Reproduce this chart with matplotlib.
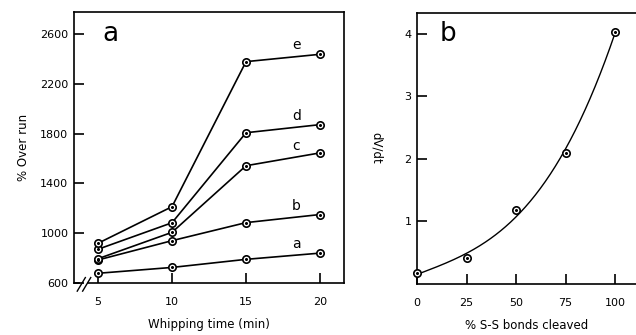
import numpy as np
import matplotlib
matplotlib.use("Agg")
import matplotlib.pyplot as plt
from matplotlib.lines import Line2D

plt.rcParams['font.family'] = ['DejaVu Sans']

# ---- data panel a ----
whip_time = [5, 10, 15, 20]
series_names = ['a', 'b', 'c', 'd', 'e']
overrun_a = [678, 725, 790, 840]
overrun_b = [785, 940, 1085, 1150]
overrun_c = [795, 1007, 1542, 1645]
overrun_d = [871, 1084, 1807, 1872]
overrun_e = [919, 1213, 2378, 2437]
a_yticks = [600, 1000, 1400, 1800, 2200, 2600]
a_xticks = [5, 10, 15, 20]

# ---- data panel b ----
ss_cleaved = [0, 25, 50, 75, 100]
dvdt = [0.17, 0.42, 1.18, 2.09, 4.03]
b_xticks = [0, 25, 50, 75, 100]
b_yticks = [1, 2, 3, 4]

W, H = 636, 335
fig = plt.figure(figsize=(W / 100, H / 100), dpi=100)

def rect(l, t, r, b):
    return [l / W, 1 - b / H, (r - l) / W, (b - t) / H]

lw = 1.2
tick_fs = 8

def markers(ax, x, y):
    ax.plot(x, y, linestyle='none', marker='o', ms=5.3, mfc='white',
            mec='black', mew=1.2, zorder=4, clip_on=False)
    ax.plot(x, y, linestyle='none', marker='o', ms=1.2, mfc='black',
            mec='black', zorder=5, clip_on=False)

# ---------- panel a ----------
ax = fig.add_axes(rect(74, 12, 344, 283))
ax.set_xlim(3.378, 21.62)
ax.set_ylim(600, 2776.7)
all_series = [overrun_a, overrun_b, overrun_c, overrun_d, overrun_e]
for name, ys in zip(series_names, all_series):
    ax.plot(whip_time, ys, color='black', lw=lw, zorder=3)
    markers(ax, whip_time, ys)
    xl = 18.4
    yl = np.interp(xl, whip_time, ys)
    ax.annotate(name, (xl, yl), xytext=(0, 3), textcoords='offset points',
                ha='center', va='bottom', fontsize=10)

ax.set_xticks(a_xticks)
ax.set_yticks(a_yticks)
ax.tick_params(direction='in', length=7, width=lw, labelsize=tick_fs, pad=4)
ax.tick_params(axis='x', pad=10)
for s in ax.spines.values():
    s.set_linewidth(lw)
ax.spines['bottom'].set_visible(False)
# bottom axis with break marks
ax.add_line(Line2D([0, 0.02], [0, 0], transform=ax.transAxes, color='black',
                   lw=lw, clip_on=False))
ax.add_line(Line2D([0.05, 1], [0, 0], transform=ax.transAxes, color='black',
                   lw=lw, clip_on=False))
for dx in (0.0, 0.02):
    ax.add_line(Line2D([0.012 + dx, 0.042 + dx], [-0.03, 0.02],
                       transform=ax.transAxes, color='black', lw=1.0,
                       clip_on=False))
ax.set_xlabel('Whipping time (min)', fontsize=8.5, labelpad=8)
ax.set_ylabel('% Over run', fontsize=8.5, labelpad=7)
ax.text(0.135, 0.92, 'a', transform=ax.transAxes, fontsize=19,
        ha='center', va='center')

# ---------- panel b ----------
bx = fig.add_axes(rect(417, 12.7, 636, 284))
bx.set_xlim(0, 110.6)
bx.set_ylim(0, 4.34)
coef = np.polyfit(ss_cleaved, dvdt, 3)
xs = np.linspace(min(ss_cleaved), max(ss_cleaved), 200)
bx.plot(xs, np.polyval(coef, xs), color='black', lw=1.0, zorder=3)
markers(bx, ss_cleaved, dvdt)
bx.set_xticks(b_xticks)
bx.set_yticks(b_yticks)
bx.tick_params(direction='in', length=7, width=lw, labelsize=tick_fs, pad=4)
bx.tick_params(axis='x', pad=10)
for s in bx.spines.values():
    s.set_linewidth(lw)
bx.spines['right'].set_visible(False)
bx.set_xlabel('% S-S bonds cleaved', fontsize=8.5, labelpad=8)
bx.set_ylabel('dV/dt', fontsize=8.5, rotation=-90, labelpad=25)
bx.text(0.14, 0.92, 'b', transform=bx.transAxes, fontsize=19,
        ha='center', va='center')

fig.savefig('out.png', dpi=100)
